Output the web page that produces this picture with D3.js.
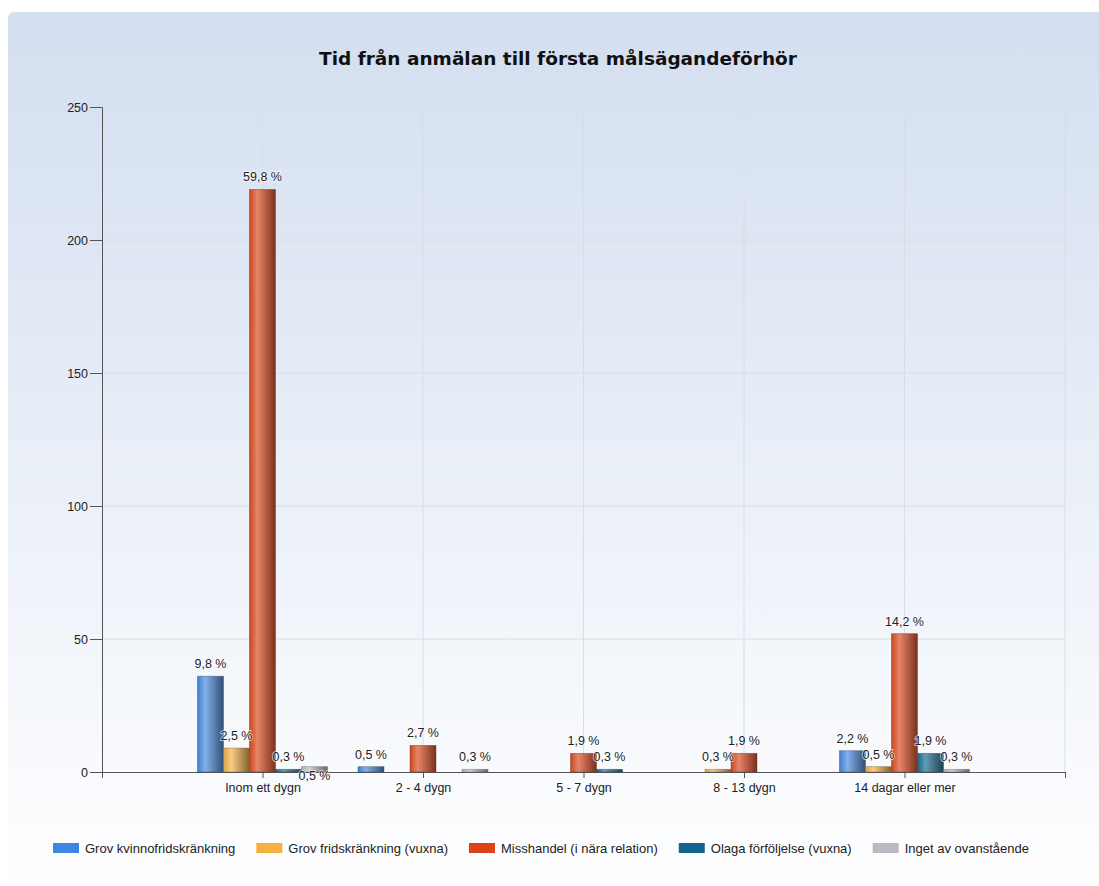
<!DOCTYPE html>
<html>
<head>
<meta charset="utf-8">
<script src="https://cdn.jsdelivr.net/npm/d3@7"></script>
<style>
  html, body { margin: 0; padding: 0; background: #fff; }
  svg { display: block; }
</style>
</head>
<body>
<svg id="chart" width="1099" height="886"></svg>
<script>
// data (counts, labels show share of total 366)
const categories = ['Inom ett dygn', '2 - 4 dygn', '5 - 7 dygn', '8 - 13 dygn', '14 dagar eller mer'];
const seriesNames = ['Grov kvinnofridskränkning', 'Grov fridskränkning (vuxna)', 'Misshandel (i nära relation)', 'Olaga förföljelse (vuxna)', 'Inget av ovanstående'];
const seriesColors = ['#3f86e0', '#f5b040', '#dc4418', '#0f6690', '#b9bbc0'];
const grovKvinno = [36, 2, 0, 0, 8];
const grovFrid = [9, 0, 0, 1, 2];
const misshandel = [219, 10, 7, 7, 52];
const olaga = [1, 0, 1, 0, 7];
const inget = [2, 1, 0, 0, 1];
const yTicks = [0, 50, 100, 150, 200, 250];
const total = 366;

const allSeries = [grovKvinno, grovFrid, misshandel, olaga, inget];

const svg = d3.select('#chart');
const W = 1099, H = 886;
const margin = {top: 107, right: 34, bottom: 114, left: 102};

const defs = svg.append('defs');
const bg = defs.append('linearGradient').attr('id', 'bg').attr('x1', 0).attr('y1', 0).attr('x2', 0).attr('y2', 1);
bg.append('stop').attr('offset', '0%').attr('stop-color', '#d3def0');
bg.append('stop').attr('offset', '100%').attr('stop-color', '#ffffff');

svg.append('rect').attr('x', 8).attr('y', 12).attr('width', W).attr('height', H)
  .attr('rx', 6).attr('fill', 'url(#bg)');

// bar gradients (cylinder look)
seriesColors.forEach((c, i) => {
  const g = defs.append('linearGradient').attr('id', 'bar' + i).attr('x1', 0).attr('x2', 1).attr('y1', 0).attr('y2', 0);
  g.append('stop').attr('offset', '0%').attr('stop-color', d3.interpolateRgb(c, '#555')(0.15));
  g.append('stop').attr('offset', '30%').attr('stop-color', d3.interpolateRgb(c, '#fff')(0.35));
  g.append('stop').attr('offset', '100%').attr('stop-color', d3.interpolateRgb(c, '#2a2220')(0.55));
});

svg.append('text').attr('x', 558).attr('y', 65).attr('text-anchor', 'middle')
  .style('font', 'bold 18.5px "DejaVu Sans", sans-serif').attr('fill', '#111')
  .text('Tid från anmälan till första målsägandeförhör');

const x = d3.scaleLinear().domain([0, categories.length + 1]).range([margin.left, W - margin.right]);
const y = d3.scaleLinear().domain([0, 250]).range([H - margin.bottom, margin.top]);
const xb = d3.scaleBand().domain(d3.range(seriesNames.length)).range([-65, 65]);

const font = '12.5px "Liberation Sans", Arial, sans-serif';

// grid
svg.append('g').selectAll('line').data(yTicks.slice(1)).join('line')
  .attr('x1', x(0)).attr('x2', x(6)).attr('y1', d => y(d)).attr('y2', d => y(d))
  .attr('stroke', '#d8dde6').attr('stroke-width', 1);
svg.append('g').selectAll('line').data(d3.range(1, 7)).join('line')
  .attr('x1', d => x(d)).attr('x2', d => x(d)).attr('y1', y(250)).attr('y2', y(0))
  .attr('stroke', '#d8dde6').attr('stroke-width', 1);

// y axis
const yAxis = svg.append('g').attr('transform', `translate(${x(0)},0)`)
  .call(d3.axisLeft(y).tickValues(yTicks).tickSize(12).tickPadding(2));
yAxis.select('.domain').attr('stroke', '#555');
yAxis.selectAll('line').attr('stroke', '#555');
yAxis.selectAll('text').style('font', font).attr('fill', '#222');

// x axis
const xAxis = svg.append('g').attr('transform', `translate(0,${y(0)})`)
  .call(d3.axisBottom(x).tickValues(d3.range(0, 7)).tickSize(6).tickPadding(5)
    .tickFormat(d => categories[d - 1] || ''));
xAxis.select('.domain').attr('stroke', '#555');
xAxis.selectAll('line').attr('stroke', '#555');
xAxis.selectAll('text').style('font', font).attr('fill', '#222');

// bars
const bars = [];
allSeries.forEach((vals, s) => {
  vals.forEach((v, c) => bars.push({s, c, v}));
});

svg.append('g').selectAll('rect').data(bars.filter(d => d.v > 0)).join('rect')
  .attr('x', d => x(d.c + 1) + xb(d.s))
  .attr('width', xb.bandwidth())
  .attr('y', d => y(d.v))
  .attr('height', d => y(0) - y(d.v))
  .attr('fill', d => `url(#bar${d.s})`)
  .attr('stroke', d => d3.interpolateRgb(seriesColors[d.s], '#222')(0.6))
  .attr('stroke-opacity', 0.5)
  .attr('stroke-width', 0.8);

// value labels with simple collision avoidance
const fmt = v => (Math.round(v / total * 1000) / 10).toFixed(1).replace('.', ',') + ' %';
const placed = [];
const labels = svg.append('g');
bars.filter(d => d.v > 0).sort((a, b) => a.c - b.c || a.s - b.s).forEach(d => {
  const cx = x(d.c + 1) + xb(d.s) + xb.bandwidth() / 2;
  let ty = y(d.v) - 8;
  const t = labels.append('text').attr('x', cx).attr('y', ty).attr('text-anchor', 'middle')
    .style('font', font).attr('fill', '#222')
    .attr('paint-order', 'stroke').attr('stroke', 'rgba(255,255,255,0.6)').attr('stroke-width', 2)
    .text(fmt(d.v));
  const w = t.node().getComputedTextLength();
  const hit = b => Math.abs(b.x - cx) < (b.w + w) / 2 && Math.abs(b.y - ty) < 13;
  if (placed.some(hit)) { ty = y(d.v) + 13; t.attr('y', ty); }
  placed.push({x: cx, y: ty, w});
});

// legend
const legend = svg.append('g');
let lx = 0;
seriesNames.forEach((n, i) => {
  const g = legend.append('g').attr('transform', `translate(${lx},0)`);
  g.append('rect').attr('x', 0).attr('y', -5).attr('width', 26).attr('height', 10).attr('fill', seriesColors[i]);
  const t = g.append('text').attr('x', 32).attr('y', 4.5)
    .style('font', '13px "Liberation Sans", Arial, sans-serif').attr('fill', '#222').text(n);
  lx += 32 + t.node().getComputedTextLength() + 21;
});
const lw = lx - 21;
legend.attr('transform', `translate(${541 - lw / 2},848)`);
</script>
</body>
</html>
